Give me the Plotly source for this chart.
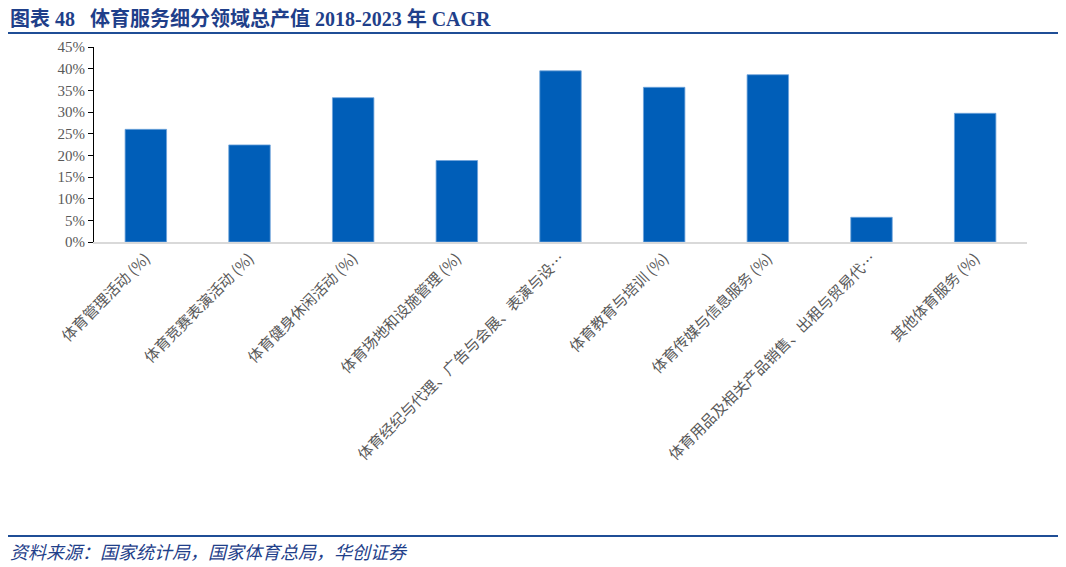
import plotly.graph_objects as go

categories = [
    "体育管理活动 (%)",
    "体育竞赛表演活动 (%)",
    "体育健身休闲活动 (%)",
    "体育场地和设施管理 (%)",
    "体育经纪与代理、广告与会展、表演与设…",
    "体育教育与培训 (%)",
    "体育传媒与信息服务 (%)",
    "体育用品及相关产品销售、出租与贸易代…",
    "其他体育服务 (%)",
]
values = [0.260, 0.224, 0.333, 0.188, 0.395, 0.357, 0.386, 0.057, 0.297]
y_ticks = [0, 0.05, 0.10, 0.15, 0.20, 0.25, 0.30, 0.35, 0.40, 0.45]
y_tick_labels = ["0%", "5%", "10%", "15%", "20%", "25%", "30%", "35%", "40%", "45%"]

title_text = "图表 48&nbsp;&nbsp; 体育服务细分领域总产值 2018-2023 年 CAGR"
source_text = "资料来源：国家统计局，国家体育总局，华创证券"

# page body has an 8px margin; work in reference pixels and shift
OFF = 8
W, H = 1066 - OFF, 567 - OFF
L, R, T, B = 94 - OFF, 1027 - OFF, 47 - OFF, 242 - OFF

def px_x(x):
    return (x - OFF - L) / (R - L)

def px_y(y):
    return (B - (y - OFF)) / (B - T)

fig = go.Figure()
fig.add_trace(go.Bar(
    x=categories, y=values,
    marker=dict(color="#005EB8", line=dict(color="#6FA3DB", width=0.8)),
))

fig.update_layout(
    width=W, height=H,
    margin=dict(l=L, r=W - R, t=T, b=H - B, autoexpand=False),
    plot_bgcolor="white", paper_bgcolor="white",
    bargap=0.6, showlegend=False,
    font=dict(family="Liberation Serif, Noto Sans CJK SC", color="#595959"),
)
fig.update_yaxes(
    range=[0, 0.45], tickvals=y_ticks, ticktext=y_tick_labels,
    showgrid=False, zeroline=False,
    showline=True, linecolor="black", linewidth=1,
    ticks="outside", ticklen=5, tickcolor="black",
    tickfont=dict(family="Liberation Serif", size=15, color="#595959"),
)
fig.update_xaxes(
    showgrid=False, showline=True, linecolor="#D9D9D9", linewidth=1.5,
    tickangle=-45, ticks="",
    tickfont=dict(family="Noto Sans CJK SC", size=15, color="#595959"),
    automargin=False,
)

fig.add_annotation(
    text="<b>" + title_text + "</b>",
    xref="paper", yref="paper", x=px_x(8), y=px_y(18),
    xanchor="left", yanchor="middle", showarrow=False,
    font=dict(family="Liberation Serif, Noto Sans CJK SC", size=20, color="#1F3F8A"),
)
fig.add_annotation(
    text="<i>" + source_text + "</i>",
    xref="paper", yref="paper", x=px_x(8), y=px_y(551),
    xanchor="left", yanchor="middle", showarrow=False,
    font=dict(family="Noto Sans CJK SC", size=18, color="#1F3F8A"),
)
for yy in (33, 536):
    fig.add_shape(
        type="line", xref="paper", yref="paper",
        x0=px_x(8), x1=px_x(1060), y0=px_y(yy), y1=px_y(yy),
        line=dict(color="#1F4E96", width=2),
    )

fig.write_html("out.html")
